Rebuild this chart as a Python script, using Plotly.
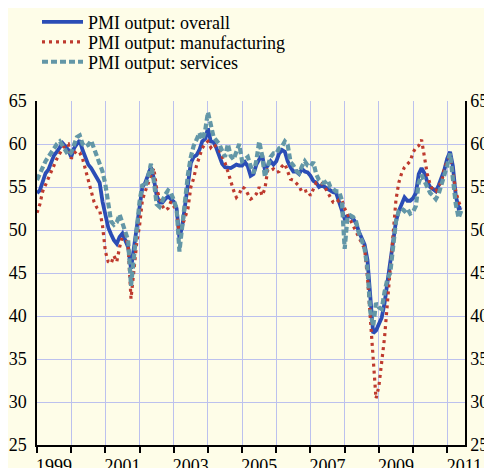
import plotly.graph_objects as go

# Monthly PMI output readings, Jan 1999 onward
overall = [
    54.3, 54.6, 55.6, 56.6, 57.0, 57.8, 58.7, 59.1, 59.7, 60.1, 59.7, 59.3,
    58.5, 59.5, 60.0, 60.4, 59.3, 58.3, 57.6, 57.2, 56.6, 56.2, 55.5, 53.3,
    51.5, 50.3, 49.5, 48.8, 48.4, 49.2, 49.6, 48.8, 48.0, 45.5, 47.8, 50.0,
    52.5, 55.0, 55.5, 56.5, 57.3, 56.0, 54.0, 53.2, 53.2, 53.6, 53.9, 53.6,
    53.3, 52.5, 49.0, 50.5, 53.0, 55.5, 57.8, 58.5, 58.7, 59.3, 60.3, 60.6,
    61.8, 60.3, 60.2, 59.5, 58.5, 57.7, 57.3, 57.2, 57.2, 57.4, 57.6, 57.5,
    57.5, 57.9, 57.4, 56.3, 56.5, 57.6, 58.2, 58.8, 57.0, 57.5, 58.0, 57.6,
    58.0, 58.9, 59.3, 59.1, 58.0, 57.3, 56.8, 56.8, 56.5, 57.1, 56.8, 56.7,
    56.3, 55.7, 55.5, 55.0, 55.2, 55.0, 54.8, 54.5, 54.4, 54.3, 53.3, 52.0,
    51.3, 51.6, 51.6, 51.3, 50.8, 49.8, 49.0, 48.3, 46.5, 42.0, 38.0, 38.3,
    39.2, 39.8, 41.5, 44.0, 46.0, 48.5, 51.0, 52.2, 53.0, 53.8, 53.4, 53.4,
    53.7, 54.3, 56.5, 57.2, 56.6, 55.6, 55.0, 54.7, 54.5, 55.2, 56.0, 57.0,
    58.3, 59.1, 57.4, 54.0, 52.5, 52.6,
]

manufacturing = [
    52.0, 53.0, 54.5, 55.3, 56.0, 56.8, 57.6, 58.3, 58.9, 59.5, 59.9, 60.0,
    58.3, 58.9, 59.2, 59.0, 58.3, 57.0, 55.8, 54.5, 53.3, 52.6, 52.3, 50.5,
    47.5, 46.3, 46.1, 47.0, 46.3, 48.0, 49.3, 49.5, 48.0, 42.0, 45.0, 48.5,
    50.5, 53.5, 54.5, 55.3, 56.3, 57.2, 54.8, 53.7, 52.8, 52.3, 52.5, 53.3,
    52.8, 52.0, 49.5, 50.5, 51.5, 52.5, 55.0, 56.0, 57.5, 58.5, 59.5, 60.0,
    60.3, 59.6, 60.0, 59.6, 59.3, 58.5, 57.8, 56.8, 55.6, 54.6, 53.8, 54.2,
    55.0, 54.8, 54.2, 53.6, 53.8, 54.2, 55.0, 54.0, 54.8, 57.0, 56.9, 57.1,
    56.7, 56.8, 57.4, 57.7, 56.8, 55.9, 55.8, 55.4, 55.1, 54.4, 54.5, 54.6,
    54.0, 54.8, 55.5, 55.5, 55.4, 55.0, 54.3, 53.8, 53.2, 53.1, 53.5, 53.5,
    52.5, 51.8, 51.2, 50.6, 49.8, 49.0, 48.5, 47.8, 44.5, 39.5, 35.0, 30.4,
    31.8, 34.5, 37.5, 41.5, 45.5, 50.0, 53.5, 55.5, 56.6, 57.3, 57.7, 58.0,
    59.0, 59.6, 59.8, 60.5, 58.5, 56.5, 55.3, 54.6, 54.5, 55.2, 55.5, 57.2,
    58.0, 58.5, 56.8, 54.5, 53.3, 52.5,
]

services = [
    55.8, 56.6, 57.3, 58.0, 58.5, 59.1, 59.5, 60.0, 60.3, 59.8, 59.3, 58.7,
    59.0, 59.8, 60.8, 61.0, 60.0, 59.7, 59.9, 60.4, 59.5, 58.4, 57.8, 56.8,
    55.3, 53.2, 51.0, 50.6, 50.9, 51.8, 50.7, 49.7, 48.8, 43.5, 46.8, 49.5,
    53.3, 55.3, 55.0, 56.2, 57.7, 55.7, 53.0, 52.7, 53.5, 54.1, 54.6, 54.3,
    53.5, 52.5, 47.5, 50.5, 54.0, 56.5, 58.5, 59.8, 60.5, 61.3, 60.5, 61.5,
    63.7, 62.0, 60.8, 60.4, 60.0, 59.2, 58.5, 60.0, 58.6, 58.2, 59.0, 60.0,
    58.0, 58.3, 58.5, 57.4, 56.6, 58.1, 60.3, 58.7, 56.2, 57.4, 58.5, 58.9,
    58.9, 59.5, 59.7, 60.3, 59.9, 57.9, 57.5, 56.9, 56.6, 57.4, 58.0, 57.5,
    57.4, 57.9, 56.5, 55.8, 55.5, 55.5, 55.8, 55.0, 54.7, 54.5, 54.5, 53.5,
    47.8, 51.5, 51.7, 51.5, 51.0, 49.6, 48.8, 47.8, 45.5, 40.5, 38.8, 41.5,
    41.0, 40.8, 42.8, 44.3, 45.0, 48.0, 51.0, 52.2, 52.5, 52.2, 52.5, 51.9,
    52.1, 52.8, 55.5, 56.4, 55.7, 55.0, 54.3, 54.0, 53.6, 54.2, 55.2, 56.3,
    57.5, 58.9, 56.0, 53.0, 51.4, 52.3,
]

start_year = 1999
year_labels = ["1999", "2001", "2003", "2005", "2007", "2009", "2011"]
y_ticks = [25, 30, 35, 40, 45, 50, 55, 60, 65]

months = [start_year + i / 12 for i in range(len(overall))]
label_pos = [int(y) + 0.5 for y in year_labels]

bg = "#FEFDE8"
grid = "#BCC1EE"
serif = "Liberation Serif"

fig = go.Figure()
fig.add_trace(go.Scatter(x=months, y=overall, mode="lines",
                         name="PMI output: overall", legend="legend",
                         line=dict(color="#2B4DB6", width=3.8)))
fig.add_trace(go.Scatter(x=months, y=manufacturing, mode="lines",
                         name="PMI output: manufacturing", legend="legend2",
                         line=dict(color="#BE3A2E", width=3.2, dash="3px,4px")))
fig.add_trace(go.Scatter(x=months, y=services, mode="lines",
                         name="PMI output: services", legend="legend3",
                         line=dict(color="#6397A7", width=4.2, dash="6px,3px")))
fig.add_trace(go.Scatter(x=[months[0]], y=[None], yaxis="y2",
                         showlegend=False, hoverinfo="skip", mode="lines"))

axis_font = dict(family=serif, size=18, color="black")
leg_font = dict(family=serif, size=18, color="black")


def leg(ypos):
    return dict(x=0.0, y=ypos, xanchor="left", yanchor="top",
                bgcolor="rgba(0,0,0,0)", itemwidth=41, font=leg_font)


fig.update_layout(
    width=484, height=460,
    margin=dict(l=29, r=27, t=93, b=23, pad=0, autoexpand=False),
    paper_bgcolor=bg, plot_bgcolor=bg,
    font=dict(family=serif, size=18, color="black"),
    legend=leg(1.283),
    legend2=leg(1.225),
    legend3=leg(1.167),
    xaxis=dict(
        range=[1999, 2011.52], tickmode="array", tickvals=label_pos,
        ticktext=year_labels, ticks="", showgrid=False, zeroline=False,
        showline=True, linecolor="black", linewidth=1.5,
        tickfont=axis_font, ticklabelstandoff=4, tickangle=0,
        automargin=False,
        minor=dict(tickmode="linear", tick0=1999, dtick=1, ticks="outside",
                   ticklen=6, tickcolor="black", tickwidth=1.5,
                   showgrid=True, gridcolor=grid, gridwidth=1),
    ),
    yaxis=dict(
        range=[25, 65], tickmode="array", tickvals=y_ticks,
        ticks="", showgrid=True, gridcolor=grid, gridwidth=1,
        zeroline=False, showline=True, linecolor="black", linewidth=1.5,
        tickfont=axis_font, ticklabelstandoff=5, automargin=False,
    ),
    yaxis2=dict(
        range=[25, 65], tickmode="array", tickvals=y_ticks,
        overlaying="y", side="right", ticks="", showgrid=False,
        zeroline=False, showline=True, linecolor="black", linewidth=1.5,
        tickfont=axis_font, ticklabelstandoff=0, automargin=False,
    ),
)

fig.write_html("out.html")
